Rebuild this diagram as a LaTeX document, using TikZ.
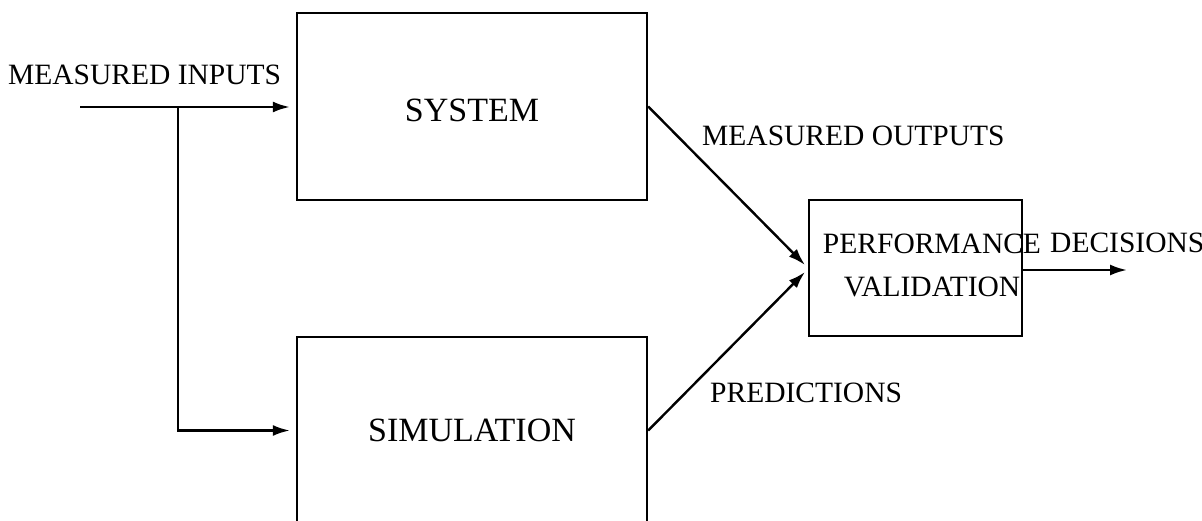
\documentclass[tikz,border=0pt]{standalone}
\usepackage{fontspec}
\setmainfont{Liberation Serif}
\usetikzlibrary{arrows.meta}

\tikzset{
  bloc/.style={draw, line width=2.4pt, inner sep=0pt, font=\fontsize{34}{40}\selectfont},
  etiquette/.style={inner sep=0pt, anchor=base west, font=\fontsize{29.5}{43}\selectfont},
  fleche/.style={line width=2.4pt, -{Latex[length=17pt,width=11pt]}}
}

\begin{document}
\begin{tikzpicture}[x=1pt, y=-1pt]
 \useasboundingbox (0,0) rectangle (1202,521);
 % les blocs
 \node [bloc, minimum width=350pt, minimum height=187pt, text height=31pt, text depth=0pt] (sys) at (472,106.5) {SYSTEM};
 \node [bloc, minimum width=350pt, minimum height=187pt] (sim) at (472,430.5) {SIMULATION};
 \node [bloc, minimum width=213pt, minimum height=136pt] (perf) at (915.5,268) {};
 \node [inner sep=0pt, align=center, font=\fontsize{29.5}{43}\selectfont] (perftext) at (932,265) {PERFORMANCE\\VALIDATION};

 % les textes
 \node [etiquette] (inputs) at (8,85) {MEASURED INPUTS};
 \node [etiquette] (outputs) at (702,146) {MEASURED OUTPUTS};
 \node [etiquette] (pred) at (710,402) {PREDICTIONS};
 \node [etiquette] (decis) at (1050,253) {DECISIONS};

 \coordinate (src) at (80,107);
 \coordinate (branch) at (178,107);
 \coordinate (in1) at (805,265);
 \coordinate (in2) at (805,272);
 \coordinate (out) at (1127,270);

 % les connexions
 \draw [fleche, shorten >=6pt] (src) -- (sys.west |- src);
 \draw [fleche, shorten >=6pt] (branch) |- (sim.west);
 \draw [fleche] (sys.east) -- (in1);
 \draw [fleche] (sim.east) -- (in2);
 \draw [fleche] (perf.east |- out) -- (out);
\end{tikzpicture}
\end{document}
